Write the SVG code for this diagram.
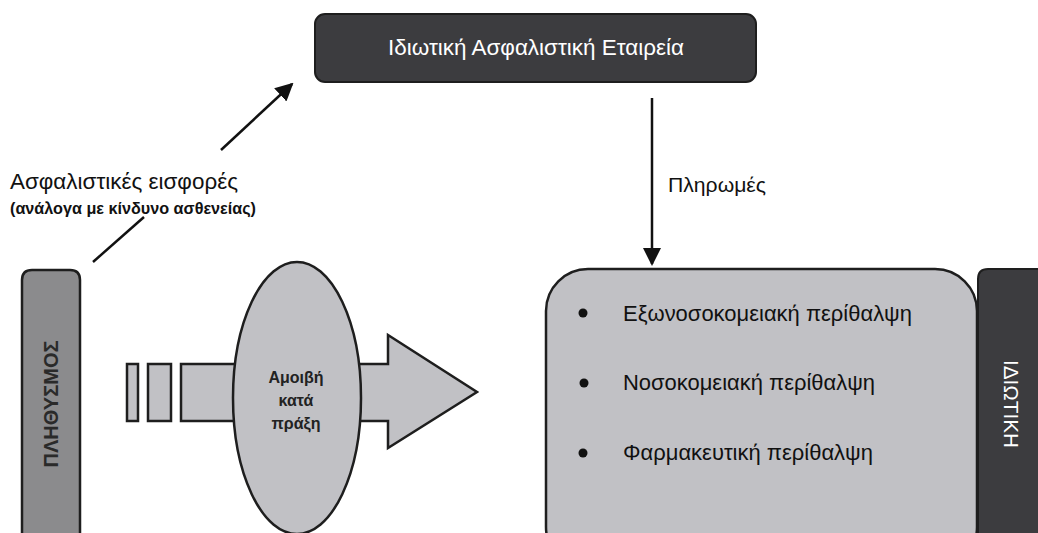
<svg xmlns="http://www.w3.org/2000/svg" width="1038" height="533" viewBox="0 0 1038 533">
<style>
text{font-family:"Liberation Sans",Arial,sans-serif;}
.light{fill:#c1c1c5;stroke:#1e1e1e;stroke-width:2.5;}
.dark{fill:#3c3c3f;stroke:#1e1e1e;stroke-width:2;}
.mid{fill:#8b8b8d;stroke:#1e1e1e;stroke-width:2.5;}
.line{stroke:#111;stroke-width:2.5;fill:none;}
.lbl{fill:#111;}
.item{font-size:21.5px;fill:#111;}
</style>
<defs>
<marker id="ah2" markerWidth="18" markerHeight="18" refX="16" refY="9" orient="auto" markerUnits="userSpaceOnUse" viewBox="0 0 18 18">
<path d="M0,0 L18,9 L0,18 z" fill="#111"/>
</marker>
</defs>
<rect width="1038" height="533" fill="#fff"/>

<g id="connectors">
<line class="line" x1="93" y1="262" x2="144" y2="217"/>
<line class="line" x1="221" y1="150" x2="292" y2="84" marker-end="url(#ah2)"/>
<line class="line" x1="652" y1="98" x2="652" y2="264" marker-end="url(#ah2)"/>
</g>

<g id="insurer">
<rect class="dark" x="315" y="14" width="441" height="68" rx="10"/>
<text x="536" y="55" font-size="22" fill="#fff" text-anchor="middle" textLength="296" lengthAdjust="spacingAndGlyphs">Ιδιωτική Ασφαλιστική Εταιρεία</text>
</g>

<g id="label-contrib">
<text x="10" y="189" font-size="22.5" class="lbl" textLength="228" lengthAdjust="spacingAndGlyphs">Ασφαλιστικές εισφορές</text>
<text x="10" y="214" font-size="16" font-weight="bold" class="lbl" textLength="246" lengthAdjust="spacingAndGlyphs">(ανάλογα με κίνδυνο ασθενείας)</text>
</g>

<g id="label-pay">
<text x="668" y="192" font-size="21" class="lbl" textLength="98" lengthAdjust="spacingAndGlyphs">Πληρωμές</text>
</g>

<g id="population">
<path class="mid" d="M22,545 L22,280 Q22,270 32,270 L70,270 Q80,270 80,280 L80,545 Z"/>
<text transform="translate(51,404) rotate(-90)" font-size="20" font-weight="bold" fill="#2a2a2a" text-anchor="middle" dominant-baseline="central" textLength="127" lengthAdjust="spacingAndGlyphs">ΠΛΗΘΥΣΜΟΣ</text>
</g>

<g id="flow-arrow">
<rect class="light" x="127" y="364" width="11" height="57" stroke-width="2"/>
<rect class="light" x="148" y="364" width="23" height="57" stroke-width="2"/>
<path class="light" stroke-width="2" d="M181,364 L388,364 L388,335 L477,392 L388,448 L388,421 L181,421 Z"/>
</g>

<g id="fee">
<ellipse class="light" cx="297" cy="398" rx="64" ry="136" stroke-width="2"/>
<text x="296" y="383" font-size="16" font-weight="bold" fill="#222" text-anchor="middle">Αμοιβή</text>
<text x="296" y="406" font-size="16" font-weight="bold" fill="#222" text-anchor="middle">κατά</text>
<text x="296" y="429" font-size="16" font-weight="bold" fill="#222" text-anchor="middle">πράξη</text>
</g>

<g id="care">
<rect class="light" x="546" y="269" width="431" height="300" rx="42"/>
<circle cx="583" cy="313" r="4.5" fill="#111"/>
<circle cx="584" cy="383" r="4.5" fill="#111"/>
<circle cx="583" cy="453" r="4.5" fill="#111"/>
<text x="623" y="321" class="item" textLength="289" lengthAdjust="spacingAndGlyphs">Εξωνοσοκομειακή περίθαλψη</text>
<text x="623" y="390" class="item" textLength="252" lengthAdjust="spacingAndGlyphs">Νοσοκομειακή περίθαλψη</text>
<text x="623" y="460" class="item" textLength="250" lengthAdjust="spacingAndGlyphs">Φαρμακευτική περίθαλψη</text>
</g>

<g id="private">
<path class="dark" d="M978,545 L978,279 Q978,269 988,269 L1040,269 L1040,545 Z"/>
<text transform="translate(1011,404) rotate(90)" font-size="21" fill="#fff" text-anchor="middle" dominant-baseline="central" textLength="88" lengthAdjust="spacingAndGlyphs">ΙΔΙΩΤΙΚΗ</text>
</g>
</svg>
